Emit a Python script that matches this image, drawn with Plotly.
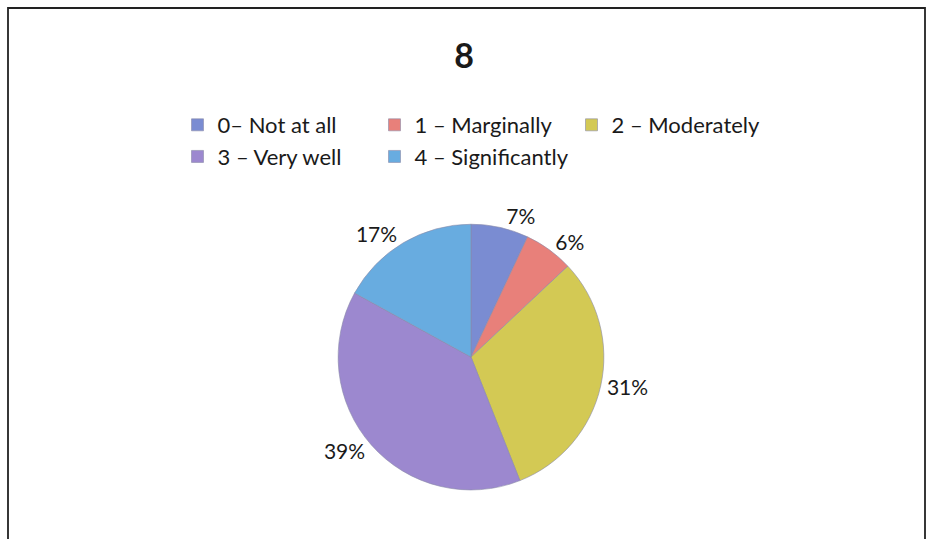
import plotly.graph_objects as go

categories = ["0– Not at all", "1 – Marginally", "2 – Moderately", "3 – Very well", "4 – Significantly"]
values = [7, 6, 31, 39, 17]
colors = ["#7a8cd2", "#e8807a", "#d3c954", "#9c88cf", "#68ace0"]
title_text = "8"

W, H = 928, 539
R_MARGIN = 228
PW = W - R_MARGIN  # plot-area width in px

fig = go.Figure(go.Pie(
    labels=categories,
    values=values,
    sort=False,
    direction="clockwise",
    rotation=0,
    marker=dict(colors=colors, line=dict(color="#8a8aa8", width=0.6)),
    textposition="outside",
    texttemplate="%{percent:.0%}",
    textfont=dict(family="Lato", size=21, color="#1a1a1a"),
    domain=dict(x=[(471 - 200) / PW, (471 + 200) / PW], y=[0.091, 0.584]),
    hoverinfo="label+percent",
))

fig.update_layout(
    width=W, height=H,
    margin=dict(l=0, r=R_MARGIN, t=0, b=0, autoexpand=False),
    paper_bgcolor="white",
    plot_bgcolor="white",
    title=dict(text="<b>" + title_text + "</b>", x=0.5, xanchor="center", y=0.895, yanchor="middle",
               font=dict(family="Lato", size=34, color="#1a1a1a")),
    legend=dict(orientation="h", x=473 / PW, xanchor="center", y=0.807, yanchor="top",
                font=dict(family="Lato", size=22, color="#1a1a1a"),
                entrywidth=152, entrywidthmode="pixels", itemwidth=30,
                tracegroupgap=0, traceorder="normal"),
    shapes=[dict(type="rect", xref="paper", yref="paper", x0=8 / PW, x1=925 / PW,
                 y0=-0.05, y1=1 - 8 / H, line=dict(color="#222", width=1.8))],
)

fig.write_html("out.html", config={"displayModeBar": False},
               post_script="document.body.style.margin='0';document.body.style.padding='0';")
